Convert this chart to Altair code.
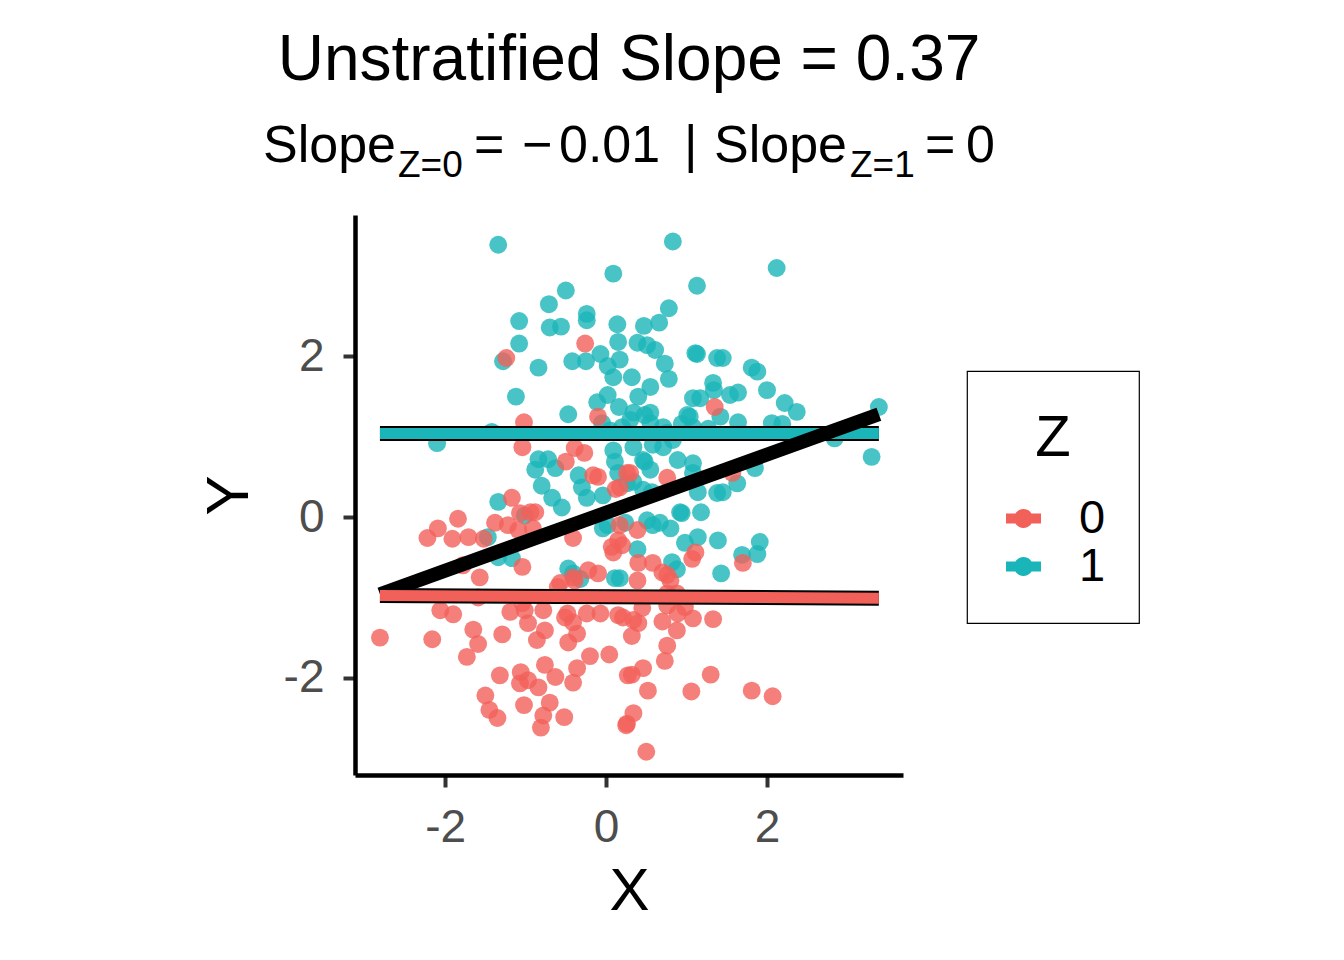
import altair as alt
import pandas as pd

# ---- data ----
x_z1 = [-1.34, 0.83, 2.12, 0.09, 1.13, -0.50, -0.71, 0.78, -0.24, -1.08,
        -0.70, -0.56, 0.14, 0.66, 0.47, -1.08, -1.28, -0.84, -0.42, -0.25,
        -0.07, 0.15, 0.02, 0.09, -1.12, -0.47, -0.11, 0.02, 0.16, -1.42,
        -2.10, -0.84, -0.72, -0.63, -0.80, -0.34, -0.30, -1.34, 0.39, 0.51,
        0.61, 0.73, 0.78, 0.32, 0.55, 0.40, 0.17, 1.13, 1.45, 1.81,
        1.88, 2.00, 2.22, 2.37, 1.33, 1.34, 1.17, 1.08, 1.54, 1.64,
        1.04, 0.94, 1.27, 1.64, 2.06, 2.19, 0.34, 0.55, 0.55, 0.20,
        2.84, 3.39, 3.30, 0.76, 0.71, 0.34, 0.46, 0.89, 1.08, 1.08,
        1.85, 1.63, 1.14, 1.45, 0.26, 0.46, 0.94, 1.18, 0.51, 0.58,
        0.67, 0.80, 0.98, 1.14, 1.39, 1.91, 1.69, 1.88, 0.82, 0.88,
        1.43, 0.39, 0.24, 0.17, -1.01, -0.67, -0.55, -1.47, -1.34, -1.17,
        -0.47, -0.32, 0.11, -0.04, 0.02, -0.24, -0.04, 0.15, 0.34, 0.48,
        0.57, 0.92, 1.38, -0.41, -0.88, -0.24, 1.11, 1.38, 0.48, 1.01,
        1.42, 0.11, 0.55, 0.09, 0.58, 0.83, 0.05, 0.30, 0.71, 1.08,
        -0.05]
y_z1 = [3.39, 3.43, 3.10, 3.03, 2.88, 2.82, 2.65, 2.60, 2.53, 2.44,
        2.36, 2.37, 2.40, 2.42, 2.38, 2.16, 1.94, 1.86, 1.94, 1.94,
        2.03, 2.18, 1.88, 1.74, 1.50, 1.28, 1.43, 1.52, 1.37, 1.06,
        0.92, 0.72, 0.72, 0.61, 0.39, 0.52, 0.37, 0.19, 2.17, 2.14,
        2.08, 1.91, 1.72, 1.74, 1.62, 1.50, 1.96, 2.03, 1.98, 1.86,
        1.81, 1.58, 1.42, 1.31, 1.67, 1.58, 1.48, 1.48, 1.52, 1.55,
        1.25, 1.16, 1.10, 1.18, 1.17, 1.16, 1.30, 1.30, 1.17, 1.12,
        0.98, 1.37, 0.75, 1.05, 0.87, 0.87, 0.71, 0.71, 0.67, 0.55,
        0.61, 0.42, 0.31, 0.31, 0.42, 0.34, 0.05, 0.06, -0.04, -0.10,
        -0.07, -0.14, -0.32, -0.25, -0.29, -0.31, -0.47, -0.46, -0.56, -0.65,
        -0.70, -0.40, -0.07, -0.76, 0.02, 0.24, 0.12, -0.25, -0.50, -0.51,
        -0.64, -0.77, -0.76, -0.14, -0.10, 0.24, 0.27, 0.55, 0.44, 0.69,
        0.31, 0.06, 0.30, -0.70, 0.59, 2.45, 2.04, 1.98, 1.27, 1.27,
        1.25, 0.69, 0.59, 0.83, 0.90, 0.96, 1.08, 1.21, 1.12, 1.12,
        1.17]

x_z0 = [-0.26, -1.24, -1.02, -1.04, -0.39, -0.27, -0.50, -0.10, 0.12, -1.17,
        -0.10, 1.35, 0.26, 0.76, 1.57, 0.17, 0.39, 0.20, 1.11, 1.07,
        1.70, 0.40, 0.58, 0.70, 0.39, 0.80, 0.76, 0.88, 0.45, 0.76,
        0.98, 0.21, 0.40, 0.70, 1.08, 1.33, 0.32, 0.88, 0.76, 0.73,
        0.32, 0.46, 0.52, 1.06, 1.30, 1.81, 2.07, 0.34, 0.25, 0.50,
        -0.88, -1.84, -2.09, -2.22, -1.91, -1.71, -1.52, -1.38, -1.22, -1.09,
        -1.04, -1.57, -1.78, -0.60, -0.41, 0.07, 0.15, -0.22, -0.10, -0.39,
        -2.06, -1.90, -1.59, -1.19, -1.04, -0.78, -0.97, -0.76, -0.86, -0.51,
        -0.41, -0.47, -0.36, -0.07, 0.15, -1.65, -1.59, -1.29, -1.73, -2.16,
        -2.81, -1.32, -1.06, -0.97, -0.84, -1.07, -0.76, -0.63, -0.41, -0.36,
        -0.20, 0.04, -1.50, -1.45, -1.35, -1.02, -0.70, -0.78, -0.81, -0.52,
        0.26, 0.27, -0.16, 0.17, 0.09, -1.07, -0.94, -0.91, -0.57, -0.41,
        0.76, -1.01, -0.48, -0.24, 0.34, 0.89, 0.30]
y_z0 = [2.16, 1.98, 1.18, 0.87, 0.86, 0.80, 0.69, 0.50, 0.35, 0.24,
        1.25, 1.37, 0.55, 0.49, 0.55, 0.37, -0.16, -0.35, -0.44, -0.52,
        -0.57, -0.57, -0.57, -0.69, -0.79, -0.79, -0.95, -0.95, -1.13, -1.10,
        -1.12, -1.25, -1.32, -1.30, -1.26, -1.27, -1.48, -1.41, -1.60, -1.79,
        -1.96, -1.88, -2.16, -2.17, -1.96, -2.16, -2.23, -2.44, -2.59, -2.92,
        0.06, -0.02, -0.14, -0.26, -0.27, -0.25, -0.27, -0.07, -0.10, -0.16,
        -0.62, -0.75, -0.60, -0.87, -0.26, -0.37, -0.29, -0.66, -0.70, -0.79,
        -1.16, -1.21, -1.00, -1.18, -1.07, -1.16, -1.32, -1.41, -1.53, -1.25,
        -1.31, -1.56, -1.45, -1.20, -1.22, -1.40, -1.58, -1.46, -1.74, -1.52,
        -1.50, -1.97, -1.93, -2.03, -2.12, -2.07, -1.84, -1.99, -2.06, -1.88,
        -1.73, -1.71, -2.22, -2.40, -2.50, -2.34, -2.31, -2.47, -2.62, -2.49,
        -2.57, -1.97, 0.52, -0.10, -0.44, 0.05, 0.06, -0.14, -0.82, -0.75,
        -0.72, -1.16, -1.20, -1.20, -1.28, -1.20, 0.55]

# fitted lines (end points of the lm fits over the full X range)
fit0_x = [-2.81, 3.39]
fit0_y = [-0.975, -1.01]
fit1_x = [-2.81, 3.39]
fit1_y = [1.04, 1.04]
fit_all_x = [-2.81, 3.39]
fit_all_y = [-0.96, 1.28]

groups = ["0", "1"]
x_ticks = [-2, 0, 2]
y_ticks = [-2, 0, 2]
x_domain = [-3.12, 3.69]
y_domain = [-3.21, 3.76]

# ---- frames ----
pts = pd.DataFrame({
    "X": x_z1 + x_z0,
    "Y": y_z1 + y_z0,
    "Z": ["1"] * len(x_z1) + ["0"] * len(x_z0),
})
fit0 = pd.DataFrame({"X": fit0_x, "Y": fit0_y})
fit1 = pd.DataFrame({"X": fit1_x, "Y": fit1_y})
fit_all = pd.DataFrame({"X": fit_all_x, "Y": fit_all_y})

FONT = "Liberation Sans"
RED = "#F2605A"
TEAL = "#1AB5B8"

xs = alt.Scale(domain=x_domain, nice=False, zero=False)
ys = alt.Scale(domain=y_domain, nice=False, zero=False)

axis_common = dict(
    grid=False, tickSize=12, tickWidth=4, tickColor="#333333",
    domainColor="black", domainWidth=4.5,
    labelFont=FONT, labelFontSize=46, labelColor="#4D4D4D",
    titleFont=FONT, titleFontSize=60, titleColor="black",
    titleFontWeight="normal", labelExpr="toString(datum.value)",
)
x_axis = alt.Axis(title="X", values=x_ticks, labelPadding=18, titlePadding=12, **axis_common)
y_axis = alt.Axis(title="Y", values=y_ticks, labelPadding=19, titlePadding=23, **axis_common)

key_path = ("M-1,-0.29L1,-0.29L1,0.29L-1,0.29Z "
            "M0.54,0A0.54,0.54,0,1,1,-0.54,0A0.54,0.54,0,1,1,0.54,0Z")

legend = alt.Legend(
    title="Z", orient="none", legendX=612, legendY=156, direction="vertical",
    padding=33, strokeColor="black", fillColor="white",
    titleFont=FONT, titleFontSize=58, titleFontWeight="normal", titleColor="black",
    titleAnchor="middle", titleAlign="center", titlePadding=33,
    titleBaseline="line-top", titleLineHeight=70,
    labelFont=FONT, labelFontSize=47, labelColor="black", labelOffset=32,
    symbolType=key_path, symbolSize=1225, symbolOpacity=1, symbolStrokeWidth=0,
)

points = alt.Chart(pts).mark_circle(size=320, opacity=0.8).encode(
    x=alt.X("X:Q", scale=xs, axis=x_axis),
    y=alt.Y("Y:Q", scale=ys, axis=y_axis),
    color=alt.Color("Z:N", scale=alt.Scale(domain=groups, range=[RED, TEAL]), legend=legend),
)


def line(df, color, width):
    return alt.Chart(df).mark_line(color=color, strokeWidth=width).encode(
        x=alt.X("X:Q", scale=xs), y=alt.Y("Y:Q", scale=ys)
    )


teal_outline = line(fit1, "black", 15)
teal_line = line(fit1, TEAL, 11)
overall_line = line(fit_all, "black", 14)
red_outline = line(fit0, "black", 15)
red_line = line(fit0, RED, 11)

blank = alt.Data(values=[{}])


def txt(s, x, y, size, align="left"):
    return alt.Chart(blank).mark_text(
        text=s, font=FONT, fontSize=size, color="black", align=align, baseline="alphabetic"
    ).encode(x=alt.value(x), y=alt.value(y))


MAIN = 52
SUB = 37
yb = -53
ys_ = -38
titles = [
    txt("Unstratified Slope = 0.37", 274, -135, 64, align="center"),
    txt("Slope", -92, yb, MAIN),
    txt("Z=0", 43, ys_, SUB),
    txt("=", 119, yb, MAIN),
    txt("\u2212", 167, yb, MAIN),
    txt("0.01", 204, yb, MAIN),
    txt("|", 329, yb, MAIN),
    txt("Slope", 359, yb, MAIN),
    txt("Z=1", 495, ys_, SUB),
    txt("=", 570, yb, MAIN),
    txt("0", 611, yb, MAIN),
]

chart = alt.layer(
    points, teal_outline, teal_line, overall_line, red_outline, red_line, *titles
).properties(
    width=548, height=560,
    padding={"left": 347, "top": 207, "right": 420, "bottom": 170},
    autosize=alt.AutoSizeParams(type="none"),
).configure_view(stroke=None).configure_legend(rowPadding=0, strokeWidth=1.2)

chart.save("out.html", embed_options={"renderer": "svg", "actions": False})
